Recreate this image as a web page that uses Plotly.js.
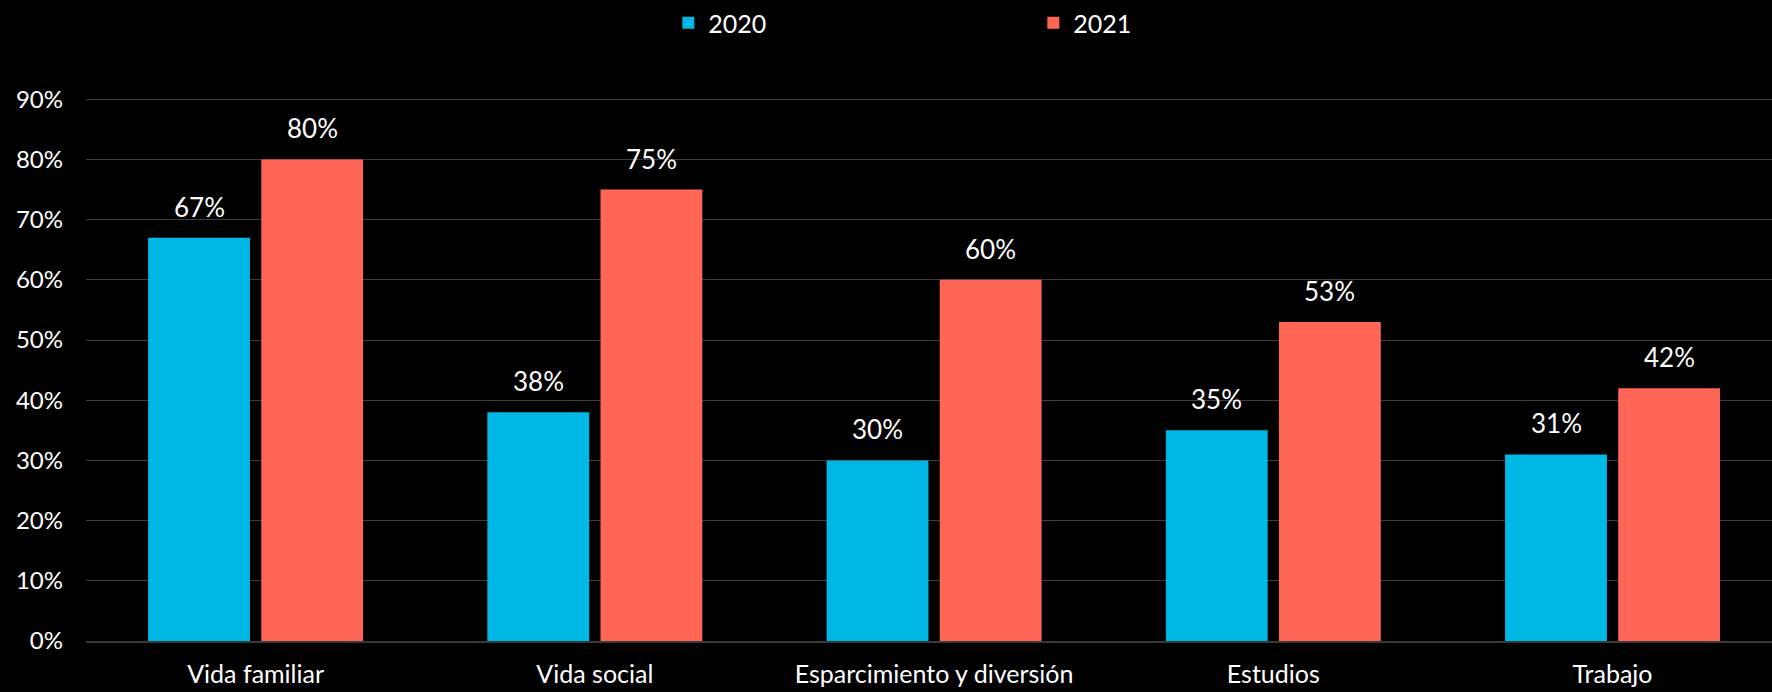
<!DOCTYPE html>
<html>
<head>
<meta charset="utf-8">
<script src="https://cdn.plot.ly/plotly-3.0.1.min.js"></script>
<style>html,body{margin:0;padding:0;background:#000;}#chart{width:1772px;height:692px;}</style>
</head>
<body>
<div id="chart"></div>
<script>
const categories = ["Vida familiar", "Vida social", "Esparcimiento y diversión", "Estudios", "Trabajo"];
const values2020 = [0.67, 0.38, 0.30, 0.35, 0.31];
const values2021 = [0.80, 0.75, 0.60, 0.53, 0.42];
const seriesNames = ["2020", "2021"];
const yTickVals = [0, 0.1, 0.2, 0.3, 0.4, 0.5, 0.6, 0.7, 0.8, 0.9];
const yTickText = ["0%", "10%", "20%", "30%", "40%", "50%", "60%", "70%", "80%", "90%"];

const fontFam = "Lato, 'Open Sans', sans-serif";
const colors = ["#00B8E6", "#FF6655"];
const pct = v => Math.round(v * 100) + "%";

const traces = [
  {type: "bar", name: seriesNames[0], x: categories, y: values2020,
   marker: {color: colors[0]}, hoverinfo: "none"},
  {type: "bar", name: seriesNames[1], x: categories, y: values2021,
   marker: {color: colors[1]}, hoverinfo: "none"}
];

// value labels above the bars, offset to each bar's position within the group
const annotations = [];
[values2020, values2021].forEach((vals, s) => {
  vals.forEach((v, i) => {
    annotations.push({
      x: categories[i], y: v, xref: "x", yref: "y",
      text: pct(v), showarrow: false, yanchor: "bottom",
      xshift: s === 0 ? -56.5 : 56.5, yshift: 13,
      font: {size: 26, color: "#ffffff", family: fontFam}
    });
  });
});

const layout = {
  width: 1772, height: 692,
  paper_bgcolor: "#000", plot_bgcolor: "#000",
  margin: {l: 86, r: 0, t: 98, b: 51},
  barmode: "group", bargap: 0.333, bargroupgap: 0.1,
  font: {family: fontFam, color: "#ffffff", size: 24},
  showlegend: true,
  annotations: annotations,
  legend: {orientation: "h", x: 0.3454, xanchor: "left", y: 1.0, yref: "container", yanchor: "top",
           entrywidth: 320, entrywidthmode: "pixels", font: {size: 25, color: "#fff", family: fontFam},
           bgcolor: "rgba(0,0,0,0)"},
  xaxis: {type: "category", range: [-0.5, 4.47], showgrid: false, showline: true,
          linecolor: "#3a3a3a", linewidth: 2, ticks: "", tickfont: {size: 25, color: "#fff", family: fontFam},
          ticklabelstandoff: 10, fixedrange: true},
  yaxis: {range: [0, 0.902], tickvals: yTickVals, ticktext: yTickText, showgrid: true,
          gridcolor: "#3d3d3d", gridwidth: 1, zeroline: false, showline: false, ticks: "",
          tickfont: {size: 24, color: "#fff", family: fontFam}, ticklabelstandoff: 22, fixedrange: true}
};

Plotly.newPlot("chart", traces, layout, {displayModeBar: false, staticPlot: true});
</script>
</body>
</html>
